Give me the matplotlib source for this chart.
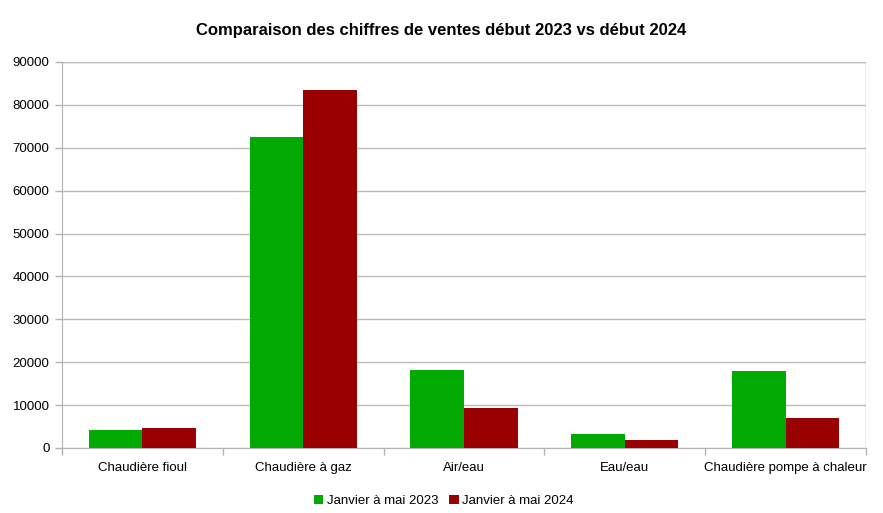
import matplotlib
matplotlib.use("Agg")
import matplotlib.pyplot as plt
import numpy as np

categories = ["Chaudière fioul", "Chaudière à gaz", "Air/eau", "Eau/eau", "Chaudière pompe à chaleur"]
series_names = ["Janvier à mai 2023", "Janvier à mai 2024"]
values_2023 = [4150, 72500, 18200, 3200, 18000]
values_2024 = [4700, 83500, 9300, 1750, 7100]
yticks = [0, 10000, 20000, 30000, 40000, 50000, 60000, 70000, 80000, 90000]

plt.rcParams['font.family'] = ['Liberation Sans', 'DejaVu Sans']

fig = plt.figure(figsize=(8.83, 5.13), dpi=100)
ax = fig.add_axes([62/883, 1-448/513, (866-62)/883, (448-62)/513])

x = np.arange(len(categories))
w = 0.333
ax.bar(x - w/2, values_2023, w, color="#00aa00", label=series_names[0], zorder=3)
ax.bar(x + w/2, values_2024, w, color="#990000", label=series_names[1], zorder=3)

ax.set_xlim(-0.5, len(categories) - 0.5)
ax.set_ylim(0, 90000)
ax.set_yticks(yticks)
ax.set_yticklabels([str(v) for v in yticks], fontsize=9.5)
ax.yaxis.grid(True, color="#bbbbbb", linewidth=1, zorder=0)

ax.set_xticks(x)
ax.set_xticklabels(categories, fontsize=9.5)
ax.tick_params(axis='x', length=0, pad=10)
ax.set_xticks(np.arange(-0.5, len(categories), 1), minor=True)
ax.tick_params(axis='x', which='minor', length=5, color="#b3b3b3", width=1)
ax.tick_params(axis='y', length=5, color="#b3b3b3", width=1, pad=4)

for s in ["top", "right"]:
    ax.spines[s].set_visible(False)
ax.spines["left"].set_color("#b3b3b3")
ax.spines["bottom"].set_color("#b3b3b3")

ax.axvline(len(categories) - 0.5, color="#bbbbbb", linewidth=1, zorder=0)
ax.axhline(90000, color="#bbbbbb", linewidth=1, zorder=0)

fig.suptitle("Comparaison des chiffres de ventes début 2023 vs début 2024",
             fontsize=12, fontweight="bold", y=1-30/513, va="center")

fig.legend(loc="center", bbox_to_anchor=(444/883, 1-501/513), ncol=2, frameon=False,
           fontsize=9.5, handlelength=0.7, handleheight=0.7, handletextpad=0.3, columnspacing=0.8)

fig.savefig("out.png", dpi=100)
